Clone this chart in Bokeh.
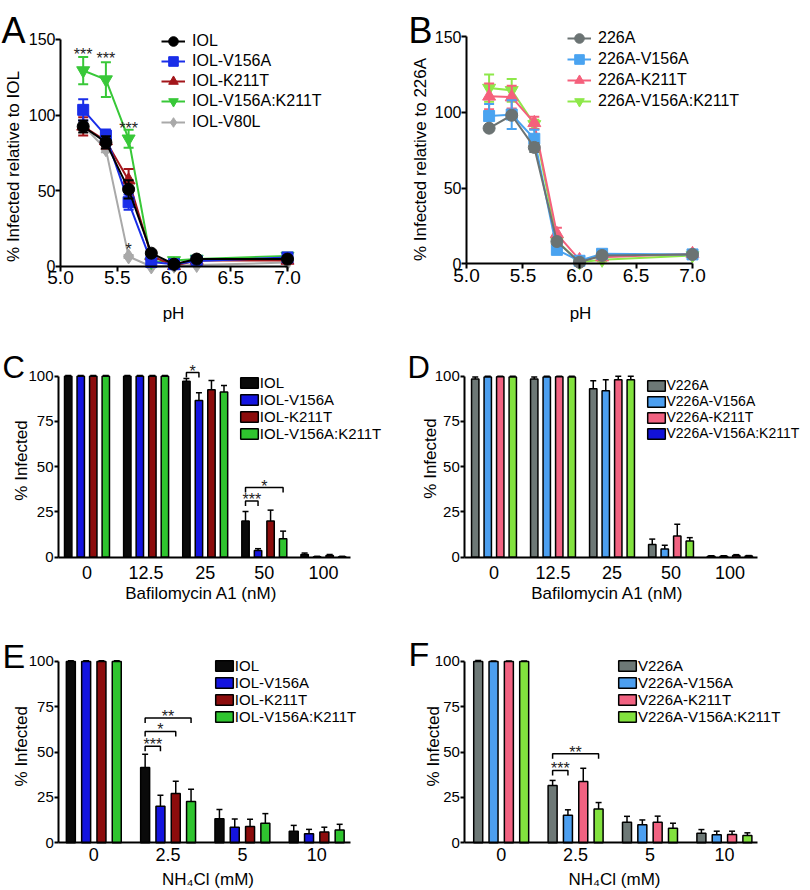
import math
from bokeh.plotting import figure
from bokeh.models import (ColumnDataSource, Legend, LegendItem, Label,
                          FixedTicker, NumeralTickFormatter)
from bokeh.layouts import column, row
from bokeh.embed import file_html
from bokeh.resources import INLINE
from bokeh.core.properties import value

FONT = "Liberation Sans"

# ---------------- data ----------------
ph = [5.2, 5.4, 5.6, 5.8, 6.0, 6.2, 7.0]
ph_ticks = [5.0, 5.5, 6.0, 6.5, 7.0]
line_ticks = [0, 50, 100, 150]
bar_ticks = [0, 25, 50, 75, 100]

a_names = ["IOL", "IOL-V156A", "IOL-K211T", "IOL-V156A:K211T", "IOL-V80L"]
a_iol = [92.5, 82, 51, 8.8, 1.5, 4.9, 4.9]
a_iol_err = [4, 4, 6, 1.2, 1, 1, 1]
a_v156a = [103.5, 86.5, 42.5, 3, 1.5, 3.7, 6]
a_v156a_err = [7, 4, 5, 1, 1, 1, 1]
a_k211t = [92.6, 83, 57, 7, 0.5, 4, 4]
a_k211t_err = [6, 5, 7.5, 1, 1, 1, 1]
a_dbl = [129.5, 123.5, 84.4, 3, 4, 5, 7]
a_dbl_err = [9, 11.5, 6, 1, 1, 1, 1]
a_v80l = [93, 77.5, 6.6, 0, 0.5, 1, 2.6]
a_v80l_err = [2, 2, 1, 0.5, 0.5, 0.5, 0.5]
a_star_x = [5.2, 5.4, 5.6, 5.6]
a_star_y = [140.1, 137.4, 91.2, 11.2]
a_star_text = ["***", "***", "***", "*"]

b_names = ["226A", "226A-V156A", "226A-K211T", "226A-V156A:K211T"]
b_226a = [89.5, 98, 76.8, 14.7, 1, 5.5, 6.2]
b_226a_err = [1, 1, 3, 1.5, 0.5, 1, 1]
b_v156a = [97.5, 98.5, 82.5, 9.2, 2, 6.6, 6.2]
b_v156a_err = [8, 9.5, 6, 1.5, 1, 1, 1]
b_k211t = [110.5, 110, 93, 19.8, 2.6, 4.4, 6.6]
b_k211t_err = [8.5, 7.5, 4, 4, 1, 1, 1]
b_dbl = [116, 114.5, 92, 15, 1, 2.6, 5.5]
b_dbl_err = [9, 7.5, 3, 2, 1, 1, 1]

bafi_labels = ["0", "12.5", "25", "50", "100"]
c_names = ["IOL", "IOL-V156A", "IOL-K211T", "IOL-V156A:K211T"]
c_iol = [100, 100, 97.2, 20, 1.5]
c_iol_err = [0.4, 0.4, 1.5, 5.3, 0.8]
c_v156a = [100, 100, 86.6, 3.7, 0.3]
c_v156a_err = [0.4, 0.4, 4.2, 1.0, 0.2]
c_k211t = [100, 100, 92.5, 20, 1]
c_k211t_err = [0.4, 0.4, 5.1, 6, 0.5]
c_dbl = [100, 100, 91.2, 10.2, 0.3]
c_dbl_err = [0.4, 0.4, 3.7, 4.2, 0.2]
c_brackets = [(2, 0, 1, 102, "*"), (3, 0, 1, 31, "***"), (3, 0, 3, 38.5, "*")]

d_names = ["V226A", "V226A-V156A", "V226A-K211T", "V226A-V156A:K211T"]
d_226a = [98.5, 98.5, 93, 7, 0.5]
d_226a_err = [1, 1, 4.5, 3, 0.3]
d_v156a = [99.5, 99.5, 92, 4.6, 0.5]
d_v156a_err = [0.5, 0.5, 6, 2, 0.3]
d_k211t = [99.7, 99.7, 98, 11.7, 1]
d_k211t_err = [0.3, 0.3, 2, 6.5, 0.4]
d_dbl = [99.5, 99.5, 98, 9, 0.6]
d_dbl_err = [0.5, 0.5, 2, 1.8, 0.3]

nh4_labels = ["0", "2.5", "5", "10"]
e_iol = [100, 41.5, 13.2, 6.4]
e_iol_err = [0.4, 7.4, 5.2, 3.2]
e_v156a = [100, 20.2, 8.6, 5]
e_v156a_err = [0.4, 6, 4.5, 2.4]
e_k211t = [100, 27.2, 9, 6]
e_k211t_err = [0.4, 6.8, 4, 2.6]
e_dbl = [100, 22.8, 10.8, 7]
e_dbl_err = [0.4, 6.8, 5.3, 3.2]
e_brackets = [(1, 0, 1, 53.3, "***"), (1, 0, 2, 61.4, "*"), (1, 0, 3, 68.8, "**")]

f_226a = [100, 31.6, 11.4, 5.3]
f_226a_err = [0.6, 2.8, 3.2, 2]
f_v156a = [100, 15.2, 10, 4.4]
f_v156a_err = [0.3, 3, 2.6, 2]
f_k211t = [100, 33.8, 11.4, 4.6]
f_k211t_err = [0.3, 7.3, 3.3, 1.8]
f_dbl = [100, 18.6, 8, 4]
f_dbl_err = [0.3, 3.6, 2.8, 1.5]
f_brackets = [(1, 0, 1, 39.9, "***"), (1, 0, 3, 49.1, "**")]

# ---------------- styles ----------------
A_COLORS = ["#000000", "#1a2ee8", "#a3161b", "#38c838", "#a9a9a9"]
A_MARKERS = [("circle", 12, 0), ("square", 11, 0), ("triangle", 13, 0),
             ("inverted_triangle", 13, 0), ("diamond", 15, 0)]
B_COLORS = ["#6b7373", "#4aa3f0", "#f5607c", "#8ee84a"]
B_MARKERS = [("circle", 12, 0), ("square", 11, 0), ("triangle", 13, 0),
             ("inverted_triangle", 13, 0)]
C_COLORS = ["#0a0a0a", "#1414e0", "#8c0c0c", "#2fc42f"]
D_COLORS = ["#6d7876", "#4c9ff0", "#f16281", "#82e23e"]
D_LEGEND_LAST = "#1212d8"

ROW_H = [328, 280, 282]


def base_fig(w, h, xr, yr, x_at, y_at, xbounds, ybounds):
    p = figure(width=w, height=h, x_range=xr, y_range=yr, output_backend="svg",
               toolbar_location=None, title=None, min_border=0)
    p.outline_line_color = None
    p.xgrid.visible = False
    p.ygrid.visible = False
    p.background_fill_color = "white"
    p.border_fill_color = "white"
    for ax in (p.xaxis[0], p.yaxis[0]):
        ax.axis_line_width = 2
        ax.axis_line_color = "black"
        ax.major_tick_line_width = 2
        ax.major_tick_line_color = "black"
        ax.major_tick_in = 0
        ax.minor_tick_line_color = None
        ax.major_label_text_font = FONT
        ax.major_label_text_color = "black"
    p.xaxis.fixed_location = x_at
    p.yaxis.fixed_location = y_at
    p.xaxis.bounds = xbounds
    p.yaxis.bounds = ybounds
    return p


def add_label(p, text, x, y, size, angle=0.0, align="left", baseline="alphabetic"):
    p.add_layout(Label(x=x, y=y, x_units="screen", y_units="screen", text=text,
                       text_font=FONT, text_font_size=f"{size}px", text_color="black",
                       angle=angle, text_align=align, text_baseline=baseline))


def add_legend_rows(p, fig_h, entries, x, first_center, pitch, font, gw, gh, lh, standoff):
    """One single-item legend per row so that row pitch can be set freely."""
    item_h = max(gh, lh)
    for k, (label, rends) in enumerate(entries):
        c = first_center + k * pitch
        leg = Legend(items=[LegendItem(label=label, renderers=rends)],
                     location=(x, fig_h - c - item_h / 2), orientation="vertical",
                     label_text_font=FONT, label_text_font_size=f"{font}px",
                     label_text_color="black", glyph_width=gw, glyph_height=gh,
                     label_height=lh, label_standoff=standoff, spacing=0, padding=0,
                     margin=0, border_line_color=None, background_fill_alpha=0,
                     inactive_fill_alpha=0)
        p.add_layout(leg)


def line_series(p, x, y, err, color, marker, size, angle):
    src = ColumnDataSource(dict(x=x, y=y,
                                lo=[a - b for a, b in zip(y, err)],
                                hi=[a + b for a, b in zip(y, err)]))
    ln = p.line("x", "y", source=src, line_color=color, line_width=2)
    p.segment("x", "lo", "x", "hi", source=src, line_color=color, line_width=2)
    p.scatter("x", "hi", source=src, marker="dash", size=10, line_color=color, line_width=2)
    p.scatter("x", "lo", source=src, marker="dash", size=10, line_color=color, line_width=2)
    sc = p.scatter("x", "y", source=src, marker=marker, size=size, angle=angle,
                   fill_color=color, line_color=color)
    return [ln, sc]


def line_panel(xr, yr, series, names, colors, markers, draw_order,
               ylab, ylab_xy, xlab_xy, letter, letter_xy, leg_x, leg_c0, leg_pitch,
               leg_font, leg_so):
    h = ROW_H[0]
    p = base_fig(405, h, xr, yr, 0, ph_ticks[0], (ph_ticks[0], ph_ticks[-1]),
                 (0, line_ticks[-1]))
    p.xaxis.ticker = FixedTicker(ticks=ph_ticks)
    p.xaxis.formatter = NumeralTickFormatter(format="0.0")
    p.yaxis.ticker = FixedTicker(ticks=line_ticks)
    p.xaxis.major_tick_out = 5
    p.yaxis.major_tick_out = 5
    p.xaxis.major_label_standoff = 0
    p.yaxis.major_label_standoff = 0
    p.xaxis.major_label_text_font_size = "19px"
    p.yaxis.major_label_text_font_size = "16px"
    rends = {}
    for i in draw_order:
        y, e = series[i]
        m, s, a = markers[i]
        rends[i] = line_series(p, ph, y, e, colors[i], m, s, a)
    add_legend_rows(p, h, [(names[i], rends[i]) for i in range(len(names))],
                    leg_x, leg_c0, leg_pitch, leg_font, 24, 24, 24, leg_so)
    add_label(p, ylab, ylab_xy[0], ylab_xy[1], 17, angle=math.pi / 2,
              align="center", baseline="middle")
    add_label(p, "pH", xlab_xy[0], xlab_xy[1], 17, align="center")
    add_label(p, letter, letter_xy[0], letter_xy[1], 36)
    return p


def bar_panel(h, xr, yr, y_at, axis_end, labels, series, colors, names,
              offsets, width, brackets, xlab, ylab_xy, xlab_xy, letter, letter_xy,
              letter_size, leg_x, leg_c0, leg_pitch, leg_font, x_standoff, px_per_unit,
              legend_colors=None):
    p = base_fig(405, h, xr, yr, 0, y_at, (y_at, axis_end), (0, bar_ticks[-1]))
    p.xaxis.ticker = FixedTicker(ticks=list(range(len(labels))))
    p.xaxis.major_label_overrides = {i: lab for i, lab in enumerate(labels)}
    p.yaxis.ticker = FixedTicker(ticks=bar_ticks)
    p.xaxis.major_tick_out = 0
    p.yaxis.major_tick_out = 4
    p.xaxis.major_label_standoff = x_standoff
    p.yaxis.major_label_standoff = 1
    p.xaxis.major_label_text_font_size = "18px"
    p.yaxis.major_label_text_font_size = "15px"
    rends = []
    for (vals, errs), col, off in zip(series, colors, offsets):
        xs = [g + off for g in range(len(labels))]
        src = ColumnDataSource(dict(x=xs, top=vals,
                                    hi=[v + e for v, e in zip(vals, errs)]))
        p.segment("x", "top", "x", "hi", source=src, line_color="black", line_width=1.5)
        p.scatter("x", "hi", source=src, marker="dash", size=6,
                  line_color="black", line_width=1.5)
        r = p.vbar(x="x", top="top", bottom=0, width=width, source=src,
                   fill_color=col, line_color="black", line_width=1.5)
        rends.append((r, src))
    leg_rends = [r for r, _ in rends]
    if legend_colors is not None:
        for k, lc in enumerate(legend_colors):
            if lc is not None:
                ghost = p.vbar(x="x", top="top", bottom=0, width=width,
                               source=rends[k][1], fill_color=lc,
                               line_color="black", line_width=1.5)
                ghost.visible = False
                leg_rends[k] = ghost
    add_legend_rows(p, h, [(n, [r]) for n, r in zip(names, leg_rends)],
                    leg_x, leg_c0, leg_pitch, leg_font, 22, 13, 17, 0)
    # significance brackets
    drop = 5 / px_per_unit
    lift = 1.5 / px_per_unit
    xs_b, ys_b, tx, ty, tt = [], [], [], [], []
    for g, i, j, lvl, lab in brackets:
        x0 = g + offsets[i]
        x1 = g + offsets[j]
        xs_b.append([x0, x0, x1, x1])
        ys_b.append([lvl - drop, lvl, lvl, lvl - drop])
        tx.append((x0 + x1) / 2)
        ty.append(lvl + lift)
        tt.append(lab)
    if brackets:
        p.multi_line(xs_b, ys_b, line_color="black", line_width=1.5)
        p.text(tx, ty, text=tt, text_font=value(FONT), text_font_size="16px",
               text_align="center", text_baseline="alphabetic", text_color="#222222")
    add_label(p, "% Infected", ylab_xy[0], ylab_xy[1], 17, angle=math.pi / 2,
              align="center", baseline="middle")
    add_label(p, xlab, xlab_xy[0], xlab_xy[1], 17, align="center")
    add_label(p, letter, letter_xy[0], letter_xy[1], letter_size)
    return p


# ---------------- panel A ----------------
pA = line_panel((4.4714, 8.0396), (-40.97, 175.771),
                [(a_iol, a_iol_err), (a_v156a, a_v156a_err), (a_k211t, a_k211t_err),
                 (a_dbl, a_dbl_err), (a_v80l, a_v80l_err)],
                a_names, A_COLORS, A_MARKERS, [4, 3, 2, 1, 0],
                "% Infected relative to IOL", (13, 162), (173, 15), "A", (1, 298),
                161, 40.7, 20.25, 16, 7)
pA.text(a_star_x, a_star_y, text=a_star_text, text_font=value(FONT),
        text_font_size="16px", text_align="center", text_baseline="alphabetic",
        text_color="#222222")

# ---------------- panel B ----------------
pB = line_panel((4.4602, 8.0442), (-42.70, 173.758),
                [(b_226a, b_226a_err), (b_v156a, b_v156a_err), (b_k211t, b_k211t_err),
                 (b_dbl, b_dbl_err)],
                b_names, B_COLORS, B_MARKERS, [3, 2, 1, 0],
                "% Infected relative to 226A", (15, 169), (175, 15), "B", (3, 298),
                162, 37.5, 21.0, 16, 7)

# ---------------- panel C ----------------
off5 = [-0.318, -0.106, 0.106, 0.318]
pC = bar_panel(ROW_H[1], (-1.4636, 5.389), (-28.34, 126.35), -0.482, 4.459, bafi_labels,
               [(c_iol, c_iol_err), (c_v156a, c_v156a_err), (c_k211t, c_k211t_err),
                (c_dbl, c_dbl_err)], C_COLORS, c_names, off5, 0.125, c_brackets,
               "Bafilomycin A1 (nM)", (20.5, 148), (200.7, 15), "C", (2, 241), 31,
               237.8, 382.8 - 328, 17.0, 15, 9, 1.81)

# ---------------- panel D ----------------
pD = bar_panel(ROW_H[1], (-1.5, 5.364), (-28.34, 126.35), -0.495, 4.461, bafi_labels,
               [(d_226a, d_226a_err), (d_v156a, d_v156a_err), (d_k211t, d_k211t_err),
                (d_dbl, d_dbl_err)], D_COLORS, d_names, off5, 0.125, [],
               "Bafilomycin A1 (nM)", (25, 150), (201.7, 15), "D", (2, 241), 31,
               239.5, 385.2 - 328, 16.0, 14, 9, 1.81,
               legend_colors=[None, None, None, D_LEGEND_LAST])

# ---------------- panel E ----------------
off4 = [-0.309, -0.103, 0.103, 0.309]
pE = bar_panel(ROW_H[2], (-1.2557, 4.1952), (-26.31, 129.23), -0.471, 3.455, nh4_labels,
               [(e_iol, e_iol_err), (e_v156a, e_v156a_err), (e_k211t, e_k211t_err),
                (e_dbl, e_dbl_err)], C_COLORS, c_names, off4, 0.121, e_brackets,
               "NH\u2084Cl (mM)", (20.5, 144.2), (207.5, 11), "E", (2, 235), 34,
               212.8, 665.4 - 608, 17.0, 15, 5, 1.813)

# ---------------- panel F ----------------
pF = bar_panel(ROW_H[2], (-1.2863, 4.1573), (-26.31, 129.23), -0.489, 3.441, nh4_labels,
               [(f_226a, f_226a_err), (f_v156a, f_v156a_err), (f_k211t, f_k211t_err),
                (f_dbl, f_dbl_err)], D_COLORS, d_names, off4, 0.121, f_brackets,
               "NH\u2084Cl (mM)", (27.5, 144.2), (209, 11), "F", (3, 237), 34,
               211, 665.4 - 608, 17.0, 15, 5, 1.813)

layout = column(row(pA, pB), row(pC, pD), row(pE, pF))
open("out.html", "w").write(file_html(layout, INLINE))
